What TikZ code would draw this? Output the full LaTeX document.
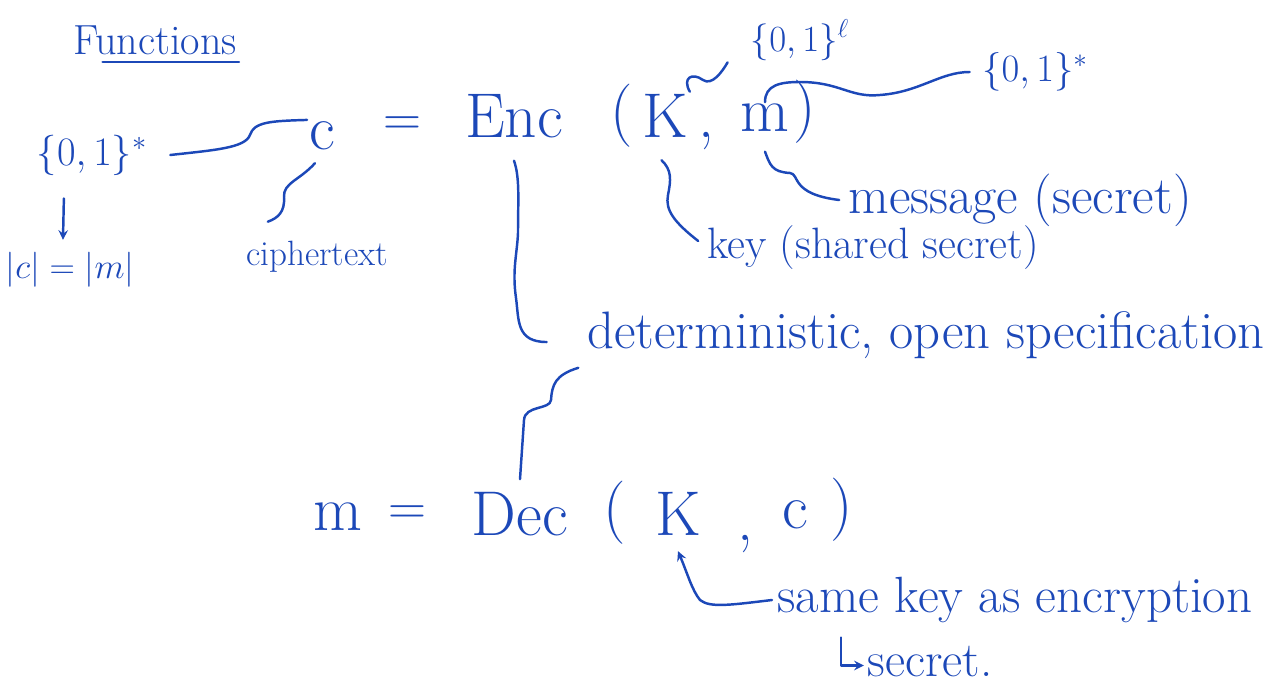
\RequirePackage{fix-cm}
\documentclass[tikz,border=0pt]{standalone}
\usetikzlibrary{arrows}

\definecolor{ink}{RGB}{28,72,184}
\newcommand{\sz}[1]{\fontsize{#1}{#1}\selectfont}
\tikzset{
	pen/.style={draw=ink, line width=1.4pt, line cap=round, line join=round},
	hw/.style={text=ink, inner sep=1pt},
}

\begin{document}
\begin{tikzpicture}[x=0.02cm,y=-0.02cm]
	\useasboundingbox (0,0) rectangle (1285,686);

	%title
	\node[hw,font=\sz{24}] (title) at (155,40) {Functions};
	\draw[pen] ([xshift=18pt,yshift=-3pt]title.south west) -- ([yshift=-3pt]title.south east);

	% encryption
	\node[hw,font=\sz{36},anchor=base] (c) at (322,150) {c};
	\node[hw,font=\sz{30}] (eq) at (402,126) {=};
	\node[hw,font=\sz{36},anchor=base] (enc) at (514,137) {Enc};
	\node[hw,font=\sz{36},anchor=base] (lpar) at (622,132) {(};
	\node[hw,font=\sz{36},anchor=base] (k) at (665,137) {K};
	\node[hw,font=\sz{36},anchor=base] (comma) at (706,137) {,};
	\node[hw,font=\sz{36},anchor=base] (m) at (765,132) {m};
	\node[hw,font=\sz{36},anchor=base] (rpar) at (805,128) {)};

	%%% sets
	\node[hw,font=\sz{23}] (bitsC) at (92,155) {$\{0,1\}^*$};
	\node[hw,font=\sz{21}] (bitsK) at (800,40) {$\{0,1\}^\ell$};
	\node[hw,font=\sz{22}] (bitsM) at (1035,72) {$\{0,1\}^*$};
	\draw[pen] ([xshift=12pt]bitsC.east) .. controls (215,150) and (245,148) .. (250,135) .. controls (254,122) and (270,121) .. (c.north west);
	\draw[pen] (k.north east) .. controls (682,78) and (692,72) .. (703,80) .. controls (712,86) and (722,72) .. ([xshift=-12pt]bitsK.south west);
	\draw[pen] (m.north) .. controls (765,85) and (780,82) .. (800,82) .. controls (840,82) and (850,98) .. (880,95) .. controls (920,92) and (940,72) .. ([xshift=-6pt]bitsM.west);

	%%% labels
	\node[hw,font=\sz{20}] (ctext) at (317,257) {ciphertext};
	\draw[pen] ([xshift=-4pt,yshift=-6pt]c.south) .. controls (300,180) and (283,183) .. (284,197) .. controls (285,212) and (278,218) .. ([xshift=-28pt,yshift=10pt]ctext.north);

	\node[hw,font=\sz{20}] (len) at (70,270) {$|c|=|m|$};
	\draw[pen,->,>=stealth] ([xshift=-16pt,yshift=-12pt]bitsC.south) -- ([xshift=-4pt,yshift=6pt]len.north);

	\node[hw,font=\sz{30}] (msg) at (1020,200) {message (secret)};
	\draw[pen] ([yshift=-10pt]m.south) .. controls (770,165) and (772,172) .. (790,173) .. controls (800,174) and (790,194) .. ([xshift=-4pt]msg.west);

	\node[hw,font=\sz{25}] (key) at (873,248) {key (shared secret)};
	\draw[pen] ([xshift=-2pt,yshift=-12pt]k.south) .. controls (672,170) and (671,180) .. (668,195) .. controls (665,210) and (674,222) .. ([xshift=-4pt,yshift=4pt]key.west);

	\node[hw,font=\sz{30}] (det) at (926,335) {deterministic, open specification};
	\draw[pen] ([yshift=-12pt]enc.south) .. controls (520,178) and (518,200) .. (518,233) .. controls (517,255) and (512,270) .. (516,298) .. controls (519,320) and (516,342) .. ([xshift=-22pt,yshift=-4pt]det.west);

	% decryption
	\node[hw,font=\sz{36},anchor=base] (dm) at (338,530) {m};
	\node[hw,font=\sz{30}] (deq) at (407,515) {=};
	\node[hw,font=\sz{36},anchor=base] (dec) at (520,535) {Dec};
	\node[hw,font=\sz{36},anchor=base] (dlpar) at (615,528) {(};
	\node[hw,font=\sz{36},anchor=base] (dk) at (678,535) {K};
	\node[hw,font=\sz{36},anchor=base] (dcomma) at (745,540) {,};
	\node[hw,font=\sz{36},anchor=base] (dc) at (795,528) {c};
	\node[hw,font=\sz{36},anchor=base] (drpar) at (842,525) {)};

	\draw[pen] ([xshift=-4pt,yshift=-4pt]det.south west) .. controls (555,375) and (552,385) .. (551,400) .. controls (550,410) and (525,405) .. (524,420) -- ([yshift=6pt]dec.north);

	\node[hw,font=\sz{29}] (same) at (1015,600) {same key as encryption};
	\draw[pen,->,>=stealth] ([xshift=-2pt]same.west) .. controls (730,605) and (710,608) .. (700,600) .. controls (692,590) and (688,575) .. ([yshift=-8pt]dk.south);

	\node[hw,font=\sz{28}] (sec) at (930,662) {secret.};
	\draw[pen,->,>=stealth] ([xshift=-14pt,yshift=4pt]sec.north west) |- ([xshift=-1pt,yshift=-2pt]sec.west);
\end{tikzpicture}
\end{document}
